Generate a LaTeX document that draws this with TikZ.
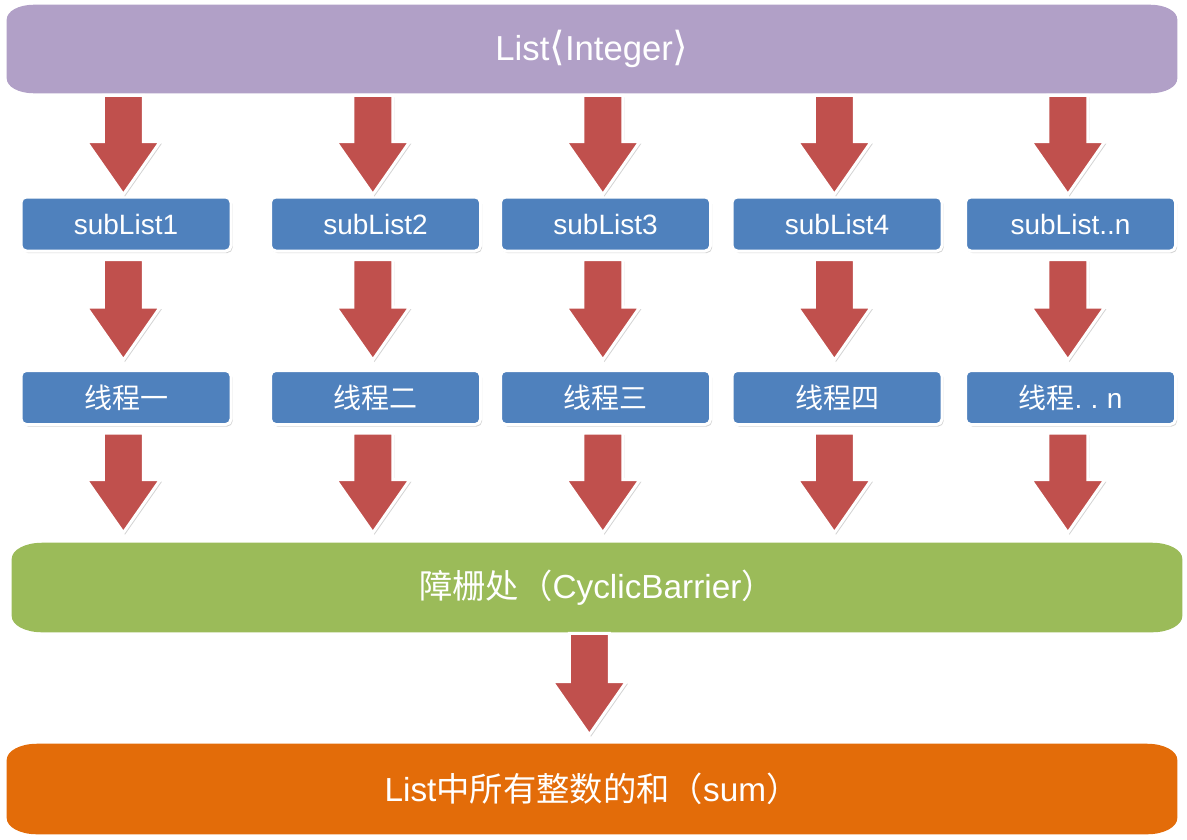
\documentclass[tikz,border=0pt]{standalone}
\usepackage{fontspec}
\setmainfont{Liberation Sans}
\newfontfamily\cjk{Noto Sans CJK SC}
\newfontfamily\djv{DejaVu Sans}
\usetikzlibrary{shadows,calc,backgrounds}

\definecolor{barpurple}{HTML}{B1A0C7}
\definecolor{arrowred}{HTML}{C0504D}
\definecolor{boxblue}{HTML}{4F81BD}
\definecolor{bargreen}{HTML}{9BBB59}
\definecolor{barorange}{HTML}{E36C09}

% #1 node, #2 colour, #3 x radius, #4 y radius
\newcommand\barshape[4]{%
  \fill[#2] ($(#1.north west)+(#3,0)$) -- ($(#1.north east)+(-#3,0)$)
    arc[start angle=90,end angle=0,x radius=#3,y radius=#4]
    -- ($(#1.south east)+(0,#4)$)
    arc[start angle=0,end angle=-90,x radius=#3,y radius=#4]
    -- ($(#1.south west)+(#3,0)$)
    arc[start angle=270,end angle=180,x radius=#3,y radius=#4]
    -- ($(#1.north west)+(0,-#4)$)
    arc[start angle=180,end angle=90,x radius=#3,y radius=#4] -- cycle;}
\newcommand\brk[1]{{\djv\fontsize{30}{30}\selectfont\raisebox{-0.5pt}{#1}}}

\begin{document}
\begin{tikzpicture}[x=0.75pt,y=-0.75pt,
  sh/.style={drop shadow={opacity=0.35,shadow xshift=1.2pt,shadow yshift=-1.5pt}},
  box/.style={sh,fill=boxblue,draw=white,line width=2.25pt,rounded corners=4pt,
    minimum width=157.5pt,minimum height=40.5pt,inner sep=0pt,text=white,
    font=\fontsize{21}{21}\selectfont},
  bar/.style={minimum width=877.5pt,inner sep=0pt,text=white,
    font=\fontsize{25}{25}\selectfont},
  blk/.style={sh,fill=arrowred,draw=white,line width=2.25pt,
    to path={let \p1=(\tikztostart), \p2=(\tikztotarget) in
      (\x2-17pt,\y1) -- (\x2+13pt,\y1) -- (\x2+13pt,\y2+39.75pt)
      -- (\x2+25.75pt,\y2+39.75pt) -- (\x2-2pt,\y2) -- (\x2-29.75pt,\y2+39.75pt)
      -- (\x2-17pt,\y2+39.75pt) -- cycle}}]
\useasboundingbox (0,0) rectangle (1187,839);

% bars
\node[bar,minimum height=66pt,font=\fontsize{26}{26}\selectfont] (top) at (592,49) {List\brk{⟨}Integer\brk{⟩}};
\node[bar,minimum height=66.75pt] (barrier) at (597,587.5) {{\cjk 障栅处（}CyclicBarrier{\cjk ）}};
\node[bar,minimum height=67.5pt] (sum) at (592,789) {List{\cjk 中所有整数的和（}sum{\cjk ）}};
\begin{scope}[on background layer]
  \barshape{top}{barpurple}{20pt}{11pt}
  \barshape{barrier}{bargreen}{22.5pt}{12pt}
  \barshape{sum}{barorange}{22.5pt}{12pt}
\end{scope}

% boxes
\node[box] (s1) at (126,224) {subList1};
\node[box] (s2) at (375.5,224) {subList2};
\node[box] (s3) at (605.5,224) {subList3};
\node[box] (s4) at (837,224) {subList4};
\node[box] (s5) at (1070.5,224) {subList..n};

\node[box] (t1) at (126,397.5) {\cjk 线程一};
\node[box] (t2) at (375.5,397.5) {\cjk 线程二};
\node[box] (t3) at (605.5,397.5) {\cjk 线程三};
\node[box] (t4) at (837,397.5) {\cjk 线程四};
\node[box] (t5) at (1070.5,397.5) {{\cjk 线程}.\hspace{0.3em}.\hspace{0.3em}n};

% arrows
\foreach \c in {1,...,5}{
  \path[blk] ($(top.south)+(0,2)$) to ($(s\c.north)+(0,-1)$);
  \path[blk] ($(s\c.south)+(0,7)$) to ($(t\c.north)+(0,-9)$);
  \path[blk] ($(t\c.south)+(0,7)$) to ($(t\c |- barrier.north)+(0,-10)$);
}
\path[blk] ($(barrier.south)+(0,1)$) to ($(sum.north)+(0,-9)$);
\end{tikzpicture}
\end{document}
